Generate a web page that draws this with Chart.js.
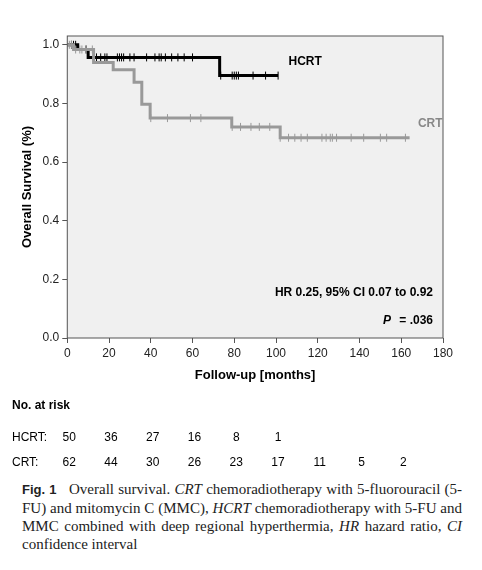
<!DOCTYPE html>
<html>
<head>
<meta charset="utf-8">
<script src="https://cdn.jsdelivr.net/npm/chart.js@4/dist/chart.umd.min.js"></script>
<style>
  body { margin: 0; background: #fff; font-family: "Liberation Sans", Arial, sans-serif; }
  #wrap { width: 482px; height: 475px; position: relative; }
  .cap { font-family: "Liberation Serif", "Times New Roman", serif; font-size: 15px; line-height: 18px; margin: 5px 20px 0 22px; text-align: justify; color: #222; }
</style>
</head>
<body>
<div id="wrap"><canvas id="km"></canvas></div>
<div class="cap"><b style="font-family:'Liberation Sans',sans-serif;font-size:13px">Fig. 1</b>&nbsp;&nbsp; Overall survival. <i>CRT</i> chemoradiotherapy with 5-fluorouracil (5-FU) and mitomycin C (MMC), <i>HCRT</i> chemoradiotherapy with 5-FU and MMC combined with deep regional hyperthermia, <i>HR</i> hazard ratio, <i>CI</i> confidence interval</div>
<script>
// survival steps: [month, survival after this time]
const hcrtSteps = [[0, 1.0], [5, 0.984], [10, 0.957], [73, 0.895], [101, 0.895]];
const crtSteps = [[0, 1.0], [3, 0.984], [12.6, 0.94], [22, 0.915], [32, 0.872], [35.7, 0.797], [39.7, 0.75], [78.8, 0.72], [102, 0.683], [164, 0.683]];
// censor times
const hcrtCensor = [2, 3, 4, 9, 14, 16, 18, 19, 24, 25, 26, 27, 30, 32, 38, 42, 44, 45, 47, 50, 53, 56, 60, 73.5, 79, 80, 81, 82, 89, 95, 101];
const crtCensor = [1, 2, 4, 6, 7, 9, 12, 40, 48, 59, 64, 79, 83, 88, 92, 97, 102, 106, 109, 112, 115, 122, 124, 126, 127, 129, 136, 142, 150, 153, 162];
const xTicks = [0, 20, 40, 60, 80, 100, 120, 140, 160, 180];
const riskMonths = [0, 20, 40, 60, 80, 100, 120, 140, 160];
const hcrtRisk = [50, 36, 27, 16, 8, 1];
const crtRisk = [62, 44, 30, 26, 23, 17, 11, 5, 2];

const survAt = (steps, t) => {
    let s = steps[0][1];
    steps.forEach(p => { if (p[0] <= t) s = p[1]; });
    return s;
};
const toPts = steps => steps.map(p => ({ x: p[0], y: p[1] }));
const censorPts = (steps, times) => times.map(t => ({ x: t, y: survAt(steps, t) }));

const extras = {
    id: 'extras',
    afterDraw(chart) {
        const c = chart.ctx, xs = chart.scales.x, area = chart.chartArea;
        c.save();
        c.fillStyle = '#000';
        c.font = 'bold 12px "Liberation Sans", Arial, sans-serif';
        c.fillText('HCRT', xs.getPixelForValue(106), chart.scales.y.getPixelForValue(0.93));
        c.fillStyle = '#888';
        c.fillText('CRT', xs.getPixelForValue(168), chart.scales.y.getPixelForValue(0.72));
        c.fillStyle = '#000';
        c.textAlign = 'right';
        c.fillText('HR 0.25, 95% CI 0.07 to 0.92', area.right - 10, area.bottom - 42);
        c.font = 'bold italic 12px "Liberation Sans", Arial, sans-serif';
        c.fillText('P', area.right - 52, area.bottom - 14);
        c.font = 'bold 12px "Liberation Sans", Arial, sans-serif';
        c.fillText(' = .036', area.right - 10, area.bottom - 14);
        // number at risk
        c.textAlign = 'left';
        c.fillText('No. at risk', 12, 409);
        c.font = '12px "Liberation Sans", Arial, sans-serif';
        c.fillText('HCRT:', 12, 441);
        c.fillText('CRT:', 12, 466);
        c.textAlign = 'center';
        hcrtRisk.forEach((n, i) => c.fillText(n, xs.getPixelForValue(riskMonths[i]) + 2, 441));
        crtRisk.forEach((n, i) => c.fillText(n, xs.getPixelForValue(riskMonths[i]) + 2, 466));
        c.restore();
    }
};

const bgPlugin = {
    id: 'bg',
    beforeDraw(chart) {
        const a = chart.chartArea, c = chart.ctx;
        c.save();
        c.fillStyle = '#f0f0f0';
        c.fillRect(a.left, a.top, a.right - a.left, a.bottom - a.top);
        c.strokeStyle = '#555';
        c.lineWidth = 1;
        c.strokeRect(a.left, a.top, a.right - a.left, a.bottom - a.top);
        c.restore();
    }
};

new Chart(document.getElementById('km'), {
    type: 'line',
    data: {
        datasets: [
            { data: toPts(crtSteps), stepped: 'before', borderColor: '#999', borderWidth: 3, pointRadius: 0 },
            { data: censorPts(crtSteps, crtCensor), showLine: false, pointStyle: 'line', rotation: 90, pointRadius: 4, borderColor: '#999', borderWidth: 1 },
            { data: toPts(hcrtSteps), stepped: 'before', borderColor: '#000', borderWidth: 3, pointRadius: 0 },
            { data: censorPts(hcrtSteps, hcrtCensor), showLine: false, pointStyle: 'line', rotation: 90, pointRadius: 4, borderColor: '#000', borderWidth: 1 }
        ]
    },
    options: {
        responsive: true,
        maintainAspectRatio: false,
        animation: false,
        layout: { padding: { top: 36, right: 39, bottom: 88, left: 16 } },
        plugins: { legend: { display: false }, tooltip: { enabled: false } },
        scales: {
            x: {
                type: 'linear', min: 0, max: 180,
                afterBuildTicks: s => { s.ticks = xTicks.map(v => ({ value: v })); },
                grid: { drawOnChartArea: false, tickLength: 5, color: '#555' },
                border: { display: false },
                ticks: { color: '#222', font: { size: 12, family: 'Liberation Sans' } },
                title: { display: true, text: 'Follow-up [months]', color: '#000', font: { size: 13, weight: 'bold', family: 'Liberation Sans' } }
            },
            y: {
                min: 0, max: 1.03,
                afterBuildTicks: s => { s.ticks = [0, 0.2, 0.4, 0.6, 0.8, 1.0].map(v => ({ value: v })); },
                grid: { drawOnChartArea: false, tickLength: 5, color: '#555' },
                border: { display: false },
                ticks: { color: '#222', font: { size: 12, family: 'Liberation Sans' }, callback: v => v.toFixed(1) },
                title: { display: true, text: 'Overall Survival (%)', color: '#000', font: { size: 13, weight: 'bold', family: 'Liberation Sans' } }
            }
        }
    },
    plugins: [bgPlugin, extras]
});
</script>
</body>
</html>
